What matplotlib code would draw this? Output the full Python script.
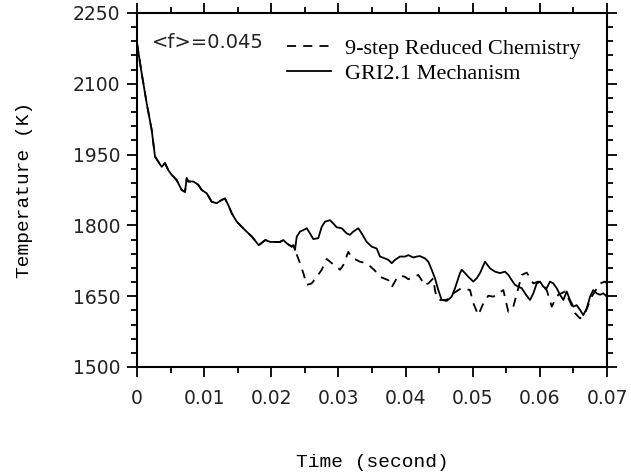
import matplotlib
matplotlib.use("Agg")
import matplotlib.pyplot as plt
from matplotlib.ticker import MultipleLocator

# Common part (both mechanisms coincide up to ~0.0235 s)
t_common = [0.0, 0.0007, 0.00144, 0.00219, 0.00268, 0.00317, 0.00368, 0.00417, 0.00466,
            0.00517, 0.00591, 0.00666, 0.00715, 0.0074, 0.00764, 0.00839, 0.00913, 0.00964,
            0.01038, 0.01113, 0.01187, 0.01262, 0.01311, 0.0136, 0.0141, 0.01485, 0.0156,
            0.01609, 0.01713, 0.01813, 0.01911, 0.01985, 0.0213, 0.02179, 0.0223, 0.02304,
            0.02328, 0.02353]
T_common = [2186, 2122, 2059, 2002, 1946, 1935, 1924, 1932, 1917,
            1907, 1896, 1875, 1871, 1900, 1893, 1893, 1886, 1875,
            1868, 1850, 1847, 1854, 1857, 1843, 1826, 1808, 1797,
            1790, 1776, 1758, 1769, 1765, 1765, 1769, 1762, 1755,
            1758, 1748]

# GRI2.1 Mechanism (after split)
t_gri = [0.02379, 0.02428, 0.02477, 0.02528, 0.02577, 0.02626, 0.027, 0.02751, 0.028,
         0.02875, 0.02924, 0.02974, 0.03049, 0.03123, 0.03172, 0.03222, 0.03296, 0.03347,
         0.03421, 0.03496, 0.0357, 0.03619, 0.03694, 0.03743, 0.03794, 0.03843, 0.03917,
         0.03992, 0.04041, 0.04115, 0.04166, 0.04215, 0.0429, 0.04339, 0.04389, 0.04438,
         0.04488, 0.04538, 0.04613, 0.04687, 0.04736, 0.04811, 0.04836, 0.04885, 0.04935,
         0.05009, 0.0506, 0.05109, 0.05183, 0.05258, 0.05332, 0.05407, 0.05481, 0.05531,
         0.05581, 0.0563, 0.0568, 0.0573, 0.05794, 0.05853, 0.05903, 0.05953, 0.06002,
         0.06052, 0.06102, 0.06151, 0.06201, 0.06251, 0.063, 0.0635, 0.064, 0.06449,
         0.06498, 0.06549, 0.06598, 0.06647, 0.06698, 0.06747, 0.06796, 0.06847, 0.06896,
         0.06945, 0.07]
T_gri = [1776, 1787, 1790, 1794, 1783, 1771, 1773, 1797, 1808,
         1811, 1804, 1796, 1794, 1783, 1780, 1787, 1794, 1783,
         1765, 1755, 1751, 1734, 1730, 1727, 1720, 1727, 1734,
         1734, 1737, 1732, 1734, 1735, 1730, 1723, 1706, 1688,
         1663, 1642, 1640, 1649, 1667, 1699, 1706, 1699, 1691,
         1681, 1688, 1699, 1723, 1709, 1702, 1699, 1702, 1695,
         1684, 1674, 1670, 1667, 1653, 1642, 1656, 1677, 1681,
         1670, 1667, 1681, 1677, 1667, 1653, 1642, 1660, 1642,
         1628, 1631, 1621, 1610, 1624, 1649, 1663, 1656, 1653,
         1656, 1649]

# 9-step Reduced Chemistry (after split)
t_red = [0.02428, 0.02477, 0.02528, 0.02602, 0.02677, 0.02751, 0.02825, 0.029, 0.02949,
         0.03024, 0.03073, 0.03147, 0.03198, 0.03321, 0.03421, 0.03545, 0.03619, 0.03743,
         0.03794, 0.03868, 0.03917, 0.03992, 0.04041, 0.0419, 0.0424, 0.04264, 0.04339,
         0.04413, 0.04438, 0.04464, 0.04513, 0.0461, 0.047, 0.0483, 0.0496, 0.05009,
         0.05083, 0.05158, 0.05232, 0.05307, 0.05456, 0.0553, 0.05605, 0.05679, 0.0573,
         0.05804, 0.05903, 0.05977, 0.06102, 0.06177, 0.06226, 0.06275, 0.06375, 0.0645,
         0.06524, 0.06598, 0.06673, 0.06772, 0.06896, 0.0697, 0.07]
T_red = [1720, 1699, 1674, 1677, 1691, 1706, 1729, 1720, 1716,
         1706, 1716, 1744, 1732, 1723, 1720, 1704, 1691, 1684,
         1669, 1688, 1694, 1691, 1686, 1695, 1684, 1674, 1677,
         1688, 1663, 1646, 1642, 1642, 1655, 1667, 1663, 1635,
         1610, 1635, 1651, 1649, 1663, 1617, 1628, 1667, 1695,
         1700, 1677, 1681, 1663, 1628, 1642, 1653, 1660, 1638,
         1614, 1603, 1614, 1649, 1677, 1681, 1677]

xticks = [0, 0.01, 0.02, 0.03, 0.04, 0.05, 0.06, 0.07]
xticklabels = ["0", "0.01", "0.02", "0.03", "0.04", "0.05", "0.06", "0.07"]
yticks = [1500, 1650, 1800, 1950, 2100, 2250]

label_red = "9-step Reduced Chemistry"
label_gri = "GRI2.1 Mechanism"
annot = "<f>=0.045"

fig = plt.figure(figsize=(6.31, 4.72), dpi=100)
ax = fig.add_axes([137/631, 1-367/472, (607-137)/631, (367-13)/472])

ax.plot(t_common + t_red, T_common + T_red, color="black", lw=1.3,
        linestyle=(0, (5.0, 4.0)), label=label_red)
ax.plot(t_common + t_gri, T_common + T_gri, color="black", lw=1.3,
        linestyle="-", label=label_gri)

ax.set_xlim(0, 0.07)
ax.set_ylim(1500, 2250)
ax.set_xticks(xticks)
ax.set_xticklabels(xticklabels)
ax.set_yticks(yticks)
ax.xaxis.set_minor_locator(MultipleLocator(0.005))
ax.yaxis.set_minor_locator(MultipleLocator(30))

for s in ax.spines.values():
    s.set_linewidth(1.5)

ax.tick_params(which="both", direction="out", top=True, right=True, width=1.3,
               labeltop=False, labelright=False)
ax.tick_params(which="major", length=7)
ax.tick_params(which="minor", length=4)
ax.tick_params(axis="x", which="major", pad=9, labelsize=13.5)
ax.tick_params(axis="y", which="major", pad=5, labelsize=13.5)
for lab in ax.get_xticklabels() + ax.get_yticklabels():
    lab.set_fontfamily("DejaVu Sans")
    lab.set_color("#222222")

ax.set_xlabel("Time (second)", family="Liberation Mono", fontsize=14, labelpad=33)
ax.set_ylabel("Temperature (K)", family="Liberation Mono", fontsize=14, labelpad=29)

ax.text(0.032, 0.918, annot, transform=ax.transAxes, fontsize=14,
        family="DejaVu Sans", va="center", ha="left", color="#222222")

leg = ax.legend(loc="upper left", bbox_to_anchor=((287-137)/470, (367-38)/354),
                frameon=False, prop={"family": "Liberation Serif", "size": 16},
                handlelength=2.0, handletextpad=0.6, labelspacing=0.2,
                borderpad=0, borderaxespad=0)

fig.savefig("out.png", dpi=100)
